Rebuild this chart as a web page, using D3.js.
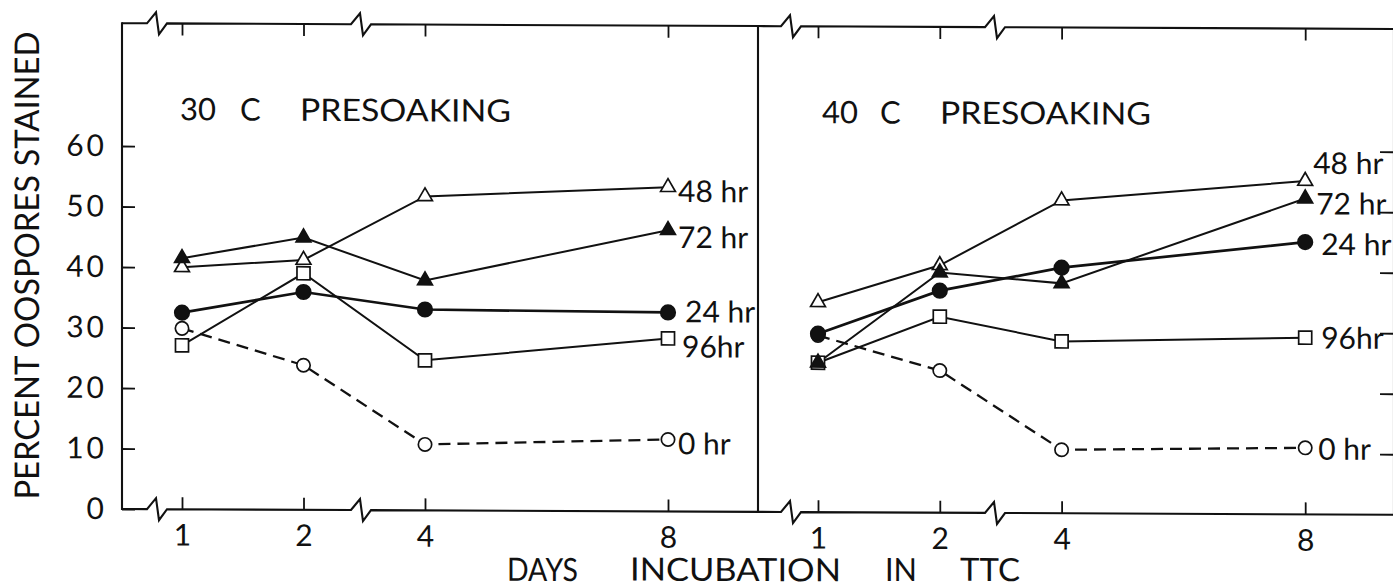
<!DOCTYPE html>
<html>
<head>
<meta charset="utf-8">
<script src="https://cdn.jsdelivr.net/npm/d3@7"></script>
<style>
  body { margin: 0; background: #fff; }
  svg { display: block; background: #fff; }
  text { font-family: Lato, "Noto Sans", sans-serif; fill: #111; }
</style>
</head>
<body>
<svg id="chart" width="1393" height="588"></svg>
<script>
// Days of incubation in TTC (x categories) and percent ticks
const days = [1, 2, 4, 8];
const dayTickLabels = ["1", "2", "4", "8"];
const percentTicks = [0, 10, 20, 30, 40, 50, 60];
const seriesKeys = ["0hr", "96hr", "48hr", "72hr", "24hr"];
const seriesLabels = { "0hr": "0 hr", "24hr": "24 hr", "48hr": "48 hr", "72hr": "72 hr", "96hr": "96hr" };

// Percent oospores stained, 30 C presoaking
const p30_0hr  = [29.9, 23.9, 10.9, 11.9];
const p30_24hr = [32.5, 36.0, 33.2, 32.9];
const p30_48hr = [40.0, 41.3, 51.9, 53.6];
const p30_72hr = [41.5, 45.0, 38.0, 46.5];
const p30_96hr = [27.1, 39.1, 24.8, 28.6];

// Percent oospores stained, 40 C presoaking
const p40_0hr  = [29.2, 23.5, 10.5, 11.0];
const p40_24hr = [29.5, 36.7, 40.6, 45.0];
const p40_48hr = [34.7, 40.9, 51.7, 55.1];
const p40_72hr = [24.7, 39.7, 38.0, 52.2];
const p40_96hr = [24.7, 32.4, 28.4, 29.2];

const panels = [
  {
    temp: "30", left: 122, right: 758, x0: 182, unit: 121.5, breaks: [156, 360],
    data: { "0hr": p30_0hr, "24hr": p30_24hr, "48hr": p30_48hr, "72hr": p30_72hr, "96hr": p30_96hr },
    labelDx: { "0hr": 10, "24hr": 17, "48hr": 10, "72hr": 10, "96hr": 14 },
    labelDy: { "0hr": 4, "24hr": -1, "48hr": 4, "72hr": 7, "96hr": 8 },
    titleX: [180, 240, 300]
  },
  {
    temp: "40", left: 758, right: 1394, x0: 818, unit: 121.8, breaks: [790, 994],
    data: { "0hr": p40_0hr, "24hr": p40_24hr, "48hr": p40_48hr, "72hr": p40_72hr, "96hr": p40_96hr },
    labelDx: { "0hr": 13, "24hr": 16, "48hr": 8, "72hr": 11, "96hr": 16 },
    labelDy: { "0hr": 1, "24hr": 2, "48hr": -18, "72hr": 5, "96hr": 0 },
    titleX: [822, 880, 940]
  }
];

const INK = "#111";
const SKEW_DEG = 0.26;
const svg = d3.select("#chart");
// The printed figure sits very slightly askew on the page
const root = svg.append("g").attr("transform", `translate(122,509) skewY(${SKEW_DEG}) translate(-122,-509)`);
const skewShift = xx => (xx - 122) * Math.tan(SKEW_DEG * Math.PI / 180);

const y = d3.scaleLinear().domain([0, 60]).range([509, 146]);
const yTop = y(80.3), yBottom = y(0);

function brokenLine(yy, xa, xb, breaks) {
  const p = d3.path();
  p.moveTo(xa, yy);
  breaks.forEach(b => {
    p.lineTo(b - 9, yy);
    p.lineTo(b, yy - 11);
    p.lineTo(b + 3, yy + 11);
    p.lineTo(b + 11, yy);
  });
  p.lineTo(xb, yy);
  return p.toString();
}

const symbolFor = {
  "0hr":  { type: d3.symbolCircle,   size: 140, fill: "#fff" },
  "24hr": { type: d3.symbolCircle,   size: 165, fill: INK },
  "48hr": { type: d3.symbolTriangle, size: 95,  fill: "#fff" },
  "72hr": { type: d3.symbolTriangle, size: 95,  fill: INK },
  "96hr": { type: d3.symbolSquare,   size: 170, fill: "#fff" }
};

panels.forEach(panel => {
  const x = d3.scaleLinear()
    .domain(days)
    .range([0, 1, 2, 4].map(u => panel.x0 + u * panel.unit));
  const g = root.append("g");

  // frame: top and bottom with axis breaks
  g.append("path").attr("d", brokenLine(yTop, panel.left, panel.right, panel.breaks))
    .attr("fill", "none").attr("stroke", INK).attr("stroke-width", 2.1).attr("stroke-linejoin", "miter");
  g.append("path").attr("d", brokenLine(yBottom, panel.left, panel.right, panel.breaks))
    .attr("fill", "none").attr("stroke", INK).attr("stroke-width", 2.1).attr("stroke-linejoin", "miter");

  // bottom axis ticks + labels
  const bottomAxis = g.append("g").attr("transform", `translate(0,${yBottom})`)
    .call(d3.axisBottom(x).tickValues(days).tickSize(-12).tickPadding(15)
      .tickFormat((d, i) => dayTickLabels[i]));
  bottomAxis.select(".domain").remove();
  bottomAxis.selectAll("line").attr("stroke", INK).attr("stroke-width", 1.8);
  bottomAxis.selectAll("text").attr("font-size", 30).attr("font-family", "Lato, 'Noto Sans', sans-serif").attr("fill", INK);

  // top axis ticks
  const topAxis = g.append("g").attr("transform", `translate(0,${yTop})`)
    .call(d3.axisTop(x).tickValues(days).tickSize(-12).tickFormat(""));
  topAxis.select(".domain").remove();
  topAxis.selectAll("line").attr("stroke", INK).attr("stroke-width", 1.8);

  // panel title
  const tY = 120;
  g.append("text").attr("x", panel.titleX[0]).attr("y", tY).attr("font-size", 31).text(panel.temp);
  g.append("text").attr("x", panel.titleX[1]).attr("y", tY).attr("font-size", 31).text("C");
  g.append("text").attr("x", panel.titleX[2]).attr("y", tY).attr("font-size", 31)
    .attr("textLength", 211).attr("lengthAdjust", "spacingAndGlyphs").text("PRESOAKING");

  // series lines
  const line = d3.line().x((d, i) => x(days[i])).y(d => y(d));
  seriesKeys.forEach(k => {
    g.append("path").datum(panel.data[k]).attr("d", line)
      .attr("fill", "none").attr("stroke", INK)
      .attr("stroke-width", k === "24hr" ? 2.7 : (k === "0hr" ? 2.3 : 2.0))
      .attr("stroke-dasharray", k === "0hr" ? "12,7" : null);
  });

  // markers
  seriesKeys.forEach(k => {
    const s = symbolFor[k];
    g.selectAll(null).data(panel.data[k]).join("path")
      .attr("d", d3.symbol().type(s.type).size(s.size))
      .attr("transform", (d, i) => `translate(${x(days[i])},${y(d)})`)
      .attr("fill", s.fill).attr("stroke", INK).attr("stroke-width", 1.7);
  });

  // series labels at day 8
  seriesKeys.forEach(k => {
    const v = panel.data[k][3];
    g.append("text")
      .attr("x", x(8) + panel.labelDx[k])
      .attr("y", y(v) + panel.labelDy[k])
      .attr("dy", "0.36em")
      .attr("font-size", 30)
      .text(seriesLabels[k]);
  });
});

// vertical axis lines: left axis, shared divider, right axis
[122, 758, 1394].forEach(xx => {
  root.append("line").attr("x1", xx).attr("x2", xx).attr("y1", yTop - 1).attr("y2", yBottom + 1)
    .attr("stroke", INK).attr("stroke-width", 2.1);
});

// left percent axis
const leftAxis = root.append("g").attr("transform", "translate(122,0)")
  .call(d3.axisLeft(y).tickValues(percentTicks).tickSize(-13).tickPadding(15).tickFormat(d3.format("d")));
leftAxis.select(".domain").remove();
leftAxis.selectAll("line").attr("stroke", INK).attr("stroke-width", 1.8);
leftAxis.selectAll("text").attr("font-size", 30).attr("letter-spacing", 3)
  .attr("font-family", "Lato, 'Noto Sans', sans-serif").attr("fill", INK);

// right-hand tick marks
const rightAxis = root.append("g").attr("transform", "translate(1394,0)")
  .call(d3.axisRight(y).tickValues(percentTicks.slice(1)).tickSize(-14).tickFormat(""));
rightAxis.select(".domain").remove();
rightAxis.selectAll("line").attr("stroke", INK).attr("stroke-width", 1.8);

// axis titles
root.append("text")
  .attr("transform", "translate(39,266) rotate(-90)")
  .attr("text-anchor", "middle").attr("font-size", 34)
  .attr("textLength", 468).attr("lengthAdjust", "spacingAndGlyphs")
  .text("PERCENT OOSPORES STAINED");

// x-axis title, set level on the page
const xTitle = [
  { t: "DAYS", x: 507, w: 71 },
  { t: "INCUBATION", x: 630, w: 211 },
  { t: "IN", x: 885, w: 32 },
  { t: "TTC", x: 960, w: 60 }
];
xTitle.forEach(p => {
  root.append("text").attr("x", p.x).attr("y", 581 - skewShift(p.x + p.w / 2)).attr("font-size", 32)
    .attr("textLength", p.w).attr("lengthAdjust", "spacingAndGlyphs").text(p.t);
});
</script>
</body>
</html>
